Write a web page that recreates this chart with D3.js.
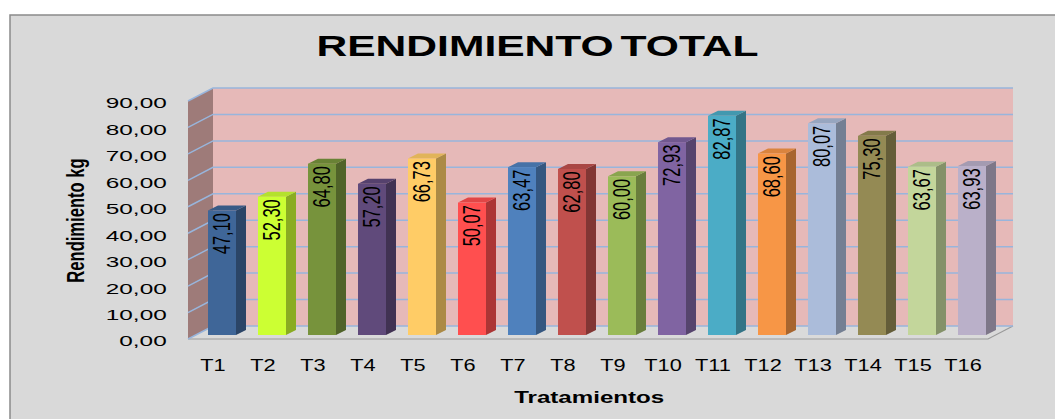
<!DOCTYPE html>
<html>
<head>
<meta charset="utf-8">
<script src="https://cdn.jsdelivr.net/npm/d3@7"></script>
<style>
  html, body { margin: 0; padding: 0; background: #fff; }
  svg { display: block; }
  text { font-family: "Liberation Sans", Arial, sans-serif; fill: #000; }
</style>
</head>
<body>
<div id="chart"></div>
<script>
// data
var categories = ["T1", "T2", "T3", "T4", "T5", "T6", "T7", "T8", "T9", "T10", "T11", "T12", "T13", "T14", "T15", "T16"]
var values = [47.10, 52.30, 64.80, 57.20, 66.73, 50.07, 63.47, 62.80, 60.00, 72.93, 82.87, 68.60, 80.07, 75.30, 63.67, 63.93]
var yTicks = [0, 10, 20, 30, 40, 50, 60, 70, 80, 90]
var barColors = ["#3f6698", "#ccff33", "#77933c", "#604a7b", "#ffcc66", "#ff4f4f", "#4f81bd", "#c0504d",
                 "#9bbb59", "#8064a2", "#4bacc6", "#f79646", "#abbcda", "#948a54", "#c3d69b", "#bab0c9"]
var title = "RENDIMIENTO TOTAL"
var xTitle = "Tratamientos"
var yTitle = "Rendimiento kg"

var W = 1055, H = 419
var fmt = function (v) { return d3.format(".2f")(v).replace(".", ",") }

var svg = d3.select("#chart").append("svg")
    .attr("width", W)
    .attr("height", H)

// chart area box
svg.append("rect")
    .attr("x", 10).attr("y", 15)
    .attr("width", W + 20).attr("height", H + 20)
    .attr("fill", "#d9d9d9")
    .attr("stroke", "#8a8a8a")
    .attr("stroke-width", 1.5)

// front plane of the 3d box, depth goes back by (dx, dy)
var left = 188, right = 988
var depth = { dx: 25, dy: -13 }

var x = d3.scaleBand()
    .domain(categories)
    .range([left, right])
    .padding(0)

var y = d3.scaleLinear()
    .domain([0, 90])
    .range([339, 101])

// side wall
var y0 = y(0), yTop = y(90)
svg.append("path")
    .attr("d", d3.line()([[left, y0], [left, yTop], [left + depth.dx, yTop + depth.dy], [left + depth.dx, y0 + depth.dy]]) + "Z")
    .attr("fill", "#9e7b79")

// back wall
svg.append("rect")
    .attr("x", left + depth.dx)
    .attr("y", yTop + depth.dy)
    .attr("width", right - left)
    .attr("height", y0 - yTop)
    .attr("fill", "#e6b9b8")

// floor
svg.append("path")
    .attr("d", d3.line()([[left, y0], [right, y0], [right + depth.dx, y0 + depth.dy], [left + depth.dx, y0 + depth.dy]]) + "Z")
    .attr("fill", "#dadada")

svg.append("path")
    .attr("d", d3.line()([[left, y0], [right, y0], [right + depth.dx, y0 + depth.dy]]))
    .attr("fill", "none")
    .attr("stroke", "#9a9a9a")
    .attr("stroke-width", 1.2)

// gridlines, on back and side wall
var grid = svg.append("g").attr("class", "grid")
grid.selectAll("path")
    .data(yTicks)
    .enter().append("path")
    .attr("d", function (v) {
        var yy = y(v)
        return d3.line()([[left, yy], [left + depth.dx, yy + depth.dy], [right + depth.dx, yy + depth.dy]])
    })
    .attr("fill", "none")
    .attr("stroke", "#98b5dc")
    .attr("stroke-width", 1.5)

// bars
var bw = x.bandwidth()
var barOff = { dx: 8, dy: -4 }   // bars sit a bit behind the front plane
var barDepth = { dx: 10, dy: -5 }

var bars = svg.append("g").attr("class", "bars")
    .selectAll("g")
    .data(values)
    .enter().append("g")

bars.each(function (v, i) {
    var g = d3.select(this)
    var c = d3.color(barColors[i])
    var x1 = x(categories[i]) + barOff.dx + bw * 0.24
    var x2 = x1 + bw * 0.56
    var yb = y(0) + barOff.dy
    var yt = y(v) + barOff.dy

    // side
    g.append("path")
        .attr("d", d3.line()([[x2, yb], [x2, yt], [x2 + barDepth.dx, yt + barDepth.dy], [x2 + barDepth.dx, yb + barDepth.dy]]) + "Z")
        .attr("fill", c.darker(1.1))
    // top
    g.append("path")
        .attr("d", d3.line()([[x1, yt], [x2, yt], [x2 + barDepth.dx, yt + barDepth.dy], [x1 + barDepth.dx, yt + barDepth.dy]]) + "Z")
        .attr("fill", c.darker(0.35))
    // front
    g.append("rect")
        .attr("x", x1).attr("y", yt)
        .attr("width", x2 - x1).attr("height", yb - yt)
        .attr("fill", c)

    var fs = 16.5, sx = 1.4
    g.append("text")
        .attr("transform", "translate(" + ((x1 + x2) / 2 + 0.358 * fs * sx) + "," + (yt + 2.5) + ") scale(" + sx + ",1) rotate(-90)")
        .attr("text-anchor", "end")
        .attr("font-size", fs)
        .text(fmt(v))
})

// y axis
var yAxis = d3.axisLeft(y)
    .tickValues(yTicks)
    .tickSize(0)
    .tickPadding(0)
    .tickFormat(fmt)

var gy = svg.append("g")
    .attr("transform", "translate(166.7,2)")
    .call(yAxis)
gy.select(".domain").remove()
gy.selectAll("text")
    .attr("x", 0)
    .attr("font-size", 15.4)
    .attr("font-family", "Liberation Sans, Arial, sans-serif")
    .attr("fill", "#111")
    .attr("transform", "scale(1.58,1)")

// x axis
var xAxis = d3.axisBottom(x)
    .tickSize(0)
    .tickPadding(20.4)

var gx = svg.append("g")
    .attr("transform", "translate(0," + y(0) + ")")
    .call(xAxis)
gx.select(".domain").remove()
gx.selectAll("text")
    .attr("font-size", 17)
    .attr("font-family", "Liberation Sans, Arial, sans-serif")
    .attr("fill", "#000")
    .attr("transform", "scale(1.28,1)")

// titles
svg.append("text")
    .attr("transform", "translate(537.5,55.7) scale(1.42,1)")
    .attr("text-anchor", "middle")
    .attr("font-size", 30)
    .attr("font-weight", "bold")
    .attr("word-spacing", -3.5)
    .text(title)

svg.append("text")
    .attr("transform", "translate(589.2,403.3) scale(1.42,1)")
    .attr("text-anchor", "middle")
    .attr("font-size", 17)
    .attr("font-weight", "bold")
    .text(xTitle)

svg.append("text")
    .attr("transform", "translate(84,220.5) scale(1.45,1) rotate(-90)")
    .attr("text-anchor", "middle")
    .attr("font-size", 16.6)
    .attr("font-weight", "bold")
    .text(yTitle)
</script>
</body>
</html>
